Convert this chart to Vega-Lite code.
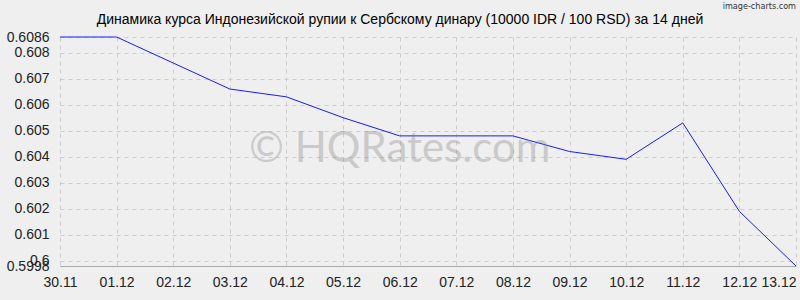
{
  "$schema": "https://vega.github.io/schema/vega-lite/v6.json",
  "autosize": "none",
  "width": 736,
  "height": 229,
  "padding": {"left": 60, "top": 37, "right": 4, "bottom": 34},
  "background": "#efefef",
  "config": {
    "view": {"stroke": null},
    "font": "Liberation Sans"
  },
  "title": {
    "text": "Динамика курса Индонезийской рупии к Сербскому динару (10000 IDR / 100 RSD) за 14 дней",
    "fontSize": 14,
    "fontWeight": "normal",
    "color": "#000000",
    "anchor": "middle",
    "dx": -28,
    "dy": 39,
    "offset": 14,
    "font": "Liberation Sans"
  },
  "datasets": {
    "rates": [
      {"date": "30.11", "rate": 0.6086},
      {"date": "01.12", "rate": 0.6086},
      {"date": "02.12", "rate": 0.6076},
      {"date": "03.12", "rate": 0.6066},
      {"date": "04.12", "rate": 0.6063},
      {"date": "05.12", "rate": 0.6055},
      {"date": "06.12", "rate": 0.6048},
      {"date": "07.12", "rate": 0.6048},
      {"date": "08.12", "rate": 0.6048},
      {"date": "09.12", "rate": 0.6042},
      {"date": "10.12", "rate": 0.6039},
      {"date": "11.12", "rate": 0.6053},
      {"date": "12.12", "rate": 0.6019},
      {"date": "13.12", "rate": 0.5998}
    ],
    "marks": [
      {"date": "06.12", "rate": 0.6043, "label": "© HQRates.com"}
    ],
    "brand": [
      {"date": "13.12", "rate": 0.6098, "label": "image-charts.com"}
    ]
  },
  "encoding": {
    "x": {
      "field": "date", "type": "ordinal",
      "scale": {"type": "point", "padding": 0, "domain": ["30.11", "01.12", "02.12", "03.12", "04.12", "05.12", "06.12", "07.12", "08.12", "09.12", "10.12", "11.12", "12.12", "13.12"]},
      "axis": {
        "title": null, "labelAngle": 0, "labelFontSize": 14, "labelColor": "#222222",
        "labelAlign": {"condition": {"test": "datum.value == '13.12'", "value": "right"}, "value": "center"},
        "domainColor": "#aaaaaa", "ticks": false, "labelPadding": 9,
        "grid": true, "gridDash": [4, 4], "gridColor": "#cccccc"
      }
    },
    "y": {
      "field": "rate", "type": "quantitative",
      "scale": {"domain": [0.5998, 0.6086], "zero": false, "nice": false},
      "axis": {
        "title": null,
        "values": [0.5998, 0.6, 0.601, 0.602, 0.603, 0.604, 0.605, 0.606, 0.607, 0.608, 0.6086],
        "format": ".4~f", "labelFontSize": 14, "labelColor": "#222222",
        "domain": false, "ticks": false, "labelPadding": 11,
        "grid": true, "gridDash": [4, 4], "gridColor": "#cccccc", "labelOverlap": false
      }
    }
  },
  "layer": [
    {
      "data": {"name": "rates"},
      "mark": {"type": "line", "color": "#1a1aff", "strokeWidth": 1, "clip": false}
    },
    {
      "data": {"name": "marks"},
      "mark": {"type": "text", "fontSize": 42, "color": "#888888", "opacity": 0.35, "font": "Lato", "align": "center", "baseline": "middle"},
      "encoding": {"text": {"field": "label"}}
    },
    {
      "data": {"name": "brand"},
      "mark": {"type": "text", "fontSize": 9, "color": "#333333", "align": "right", "baseline": "alphabetic", "dy": 3, "clip": false, "font": "DejaVu Sans Condensed"},
      "encoding": {"text": {"field": "label"}}
    }
  ]
}
